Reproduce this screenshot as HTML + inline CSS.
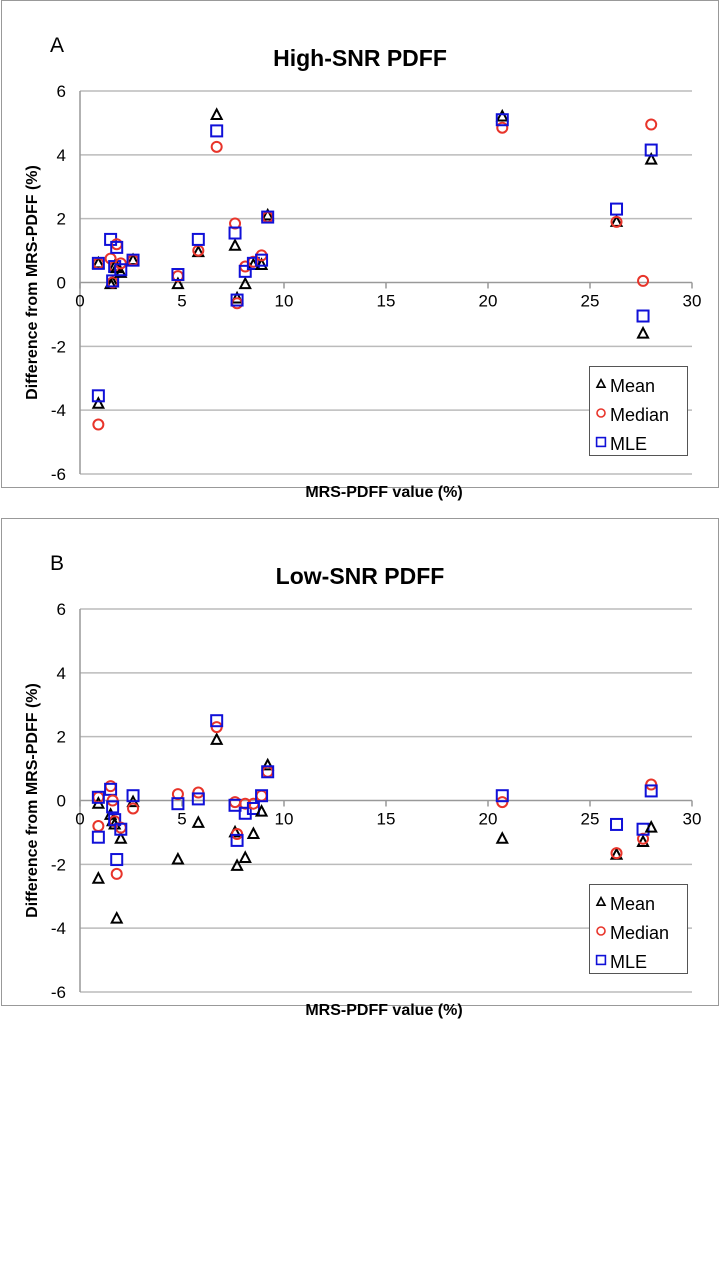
<!DOCTYPE html>
<html><head><meta charset="utf-8"><style>
body{margin:0;background:#fff;width:720px;height:1280px;overflow:hidden;font-family:"Liberation Sans",sans-serif}
svg text{font-family:"Liberation Sans",sans-serif}
</style></head><body>
<svg id="root" width="720" height="1280"></svg>
<script>
const xVals=[0.9,0.9,1.5,1.6,1.7,1.8,2.0,2.6,4.8,5.8,6.7,7.6,7.7,8.1,8.5,8.9,9.2,20.7,26.3,27.6,28.0];
const aMean=[0.6,-3.8,-0.05,0.0,0.5,0.45,0.3,0.7,-0.05,0.95,5.25,1.15,-0.5,-0.05,0.55,0.55,2.1,5.2,1.9,-1.6,3.85];
const aMedian=[0.6,-4.45,0.75,0.0,0.5,1.2,0.6,0.7,0.2,1.0,4.25,1.85,-0.65,0.5,0.65,0.85,2.05,4.85,1.9,0.05,4.95];
const aMLE=[0.6,-3.55,1.35,0.05,0.5,1.1,0.4,0.7,0.25,1.35,4.75,1.55,-0.55,0.35,0.6,0.7,2.05,5.1,2.3,-1.05,4.15];
const bMean=[-0.1,-2.45,-0.45,-0.65,-0.75,-3.7,-1.2,-0.05,-1.85,-0.7,1.9,-1.0,-2.05,-1.8,-1.05,-0.35,1.1,-1.2,-1.7,-1.3,-0.85];
const bMedian=[0.1,-0.8,0.45,0.0,-0.65,-2.3,-0.85,-0.25,0.2,0.25,2.3,-0.05,-1.05,-0.1,-0.1,0.15,0.9,-0.05,-1.65,-1.2,0.5];
const bMLE=[0.1,-1.15,0.35,-0.2,-0.6,-1.85,-0.9,0.15,-0.1,0.05,2.5,-0.15,-1.25,-0.4,-0.25,0.15,0.9,0.15,-0.75,-0.9,0.3];
const xTicks=[5,10,15,20,25,30];
const yTicks=[6,4,2,0,-2,-4,-6];
const NS='http://www.w3.org/2000/svg';
const root=document.getElementById('root');
function mk(tag,attrs,parent,txt){const e=document.createElementNS(NS,tag);for(const k in attrs)e.setAttribute(k,attrs[k]);if(txt!==undefined)e.textContent=txt;(parent||root).appendChild(e);return e;}
function panel(top,letter,title,mean,median,mle,key){
  const g=mk('g',{});
  
  
  const box=mk('rect',{x:1.5,y:top+0.5,width:717,height:487,fill:'none',stroke:'#999'},g);
  
  const x0=80,x1=692,yTop=top+91,yBot=top+474;
  const X=v=>x0+(v/30)*(x1-x0);
  const Y=v=>yTop+(6-v)/12*(yBot-yTop);
  const l=mk('text',{x:50,y:top+52,'font-size':21},g,letter);
  
  const t=mk('text',{x:360,y:top+66,'font-size':23,'font-weight':'bold','text-anchor':'middle'},g,title);
  
  yTicks.forEach(v=>{
    if(v!==0){const gl=mk('line',{x1:x0,x2:x1,y1:Y(v),y2:Y(v),stroke:'#bbb','stroke-width':1.5},g);
    }
    const tl=mk('text',{x:66,y:Y(v)+6,'font-size':17,'text-anchor':'end'},g,v);
    
  });
  const ax=mk('line',{x1:x0,x2:x0,y1:yTop,y2:yBot,stroke:'#999','stroke-width':1.5},g);
  
  const xa=mk('line',{x1:x0,x2:x1,y1:Y(0),y2:Y(0),stroke:'#999','stroke-width':1.5},g);
  
  [0].concat(xTicks).forEach(v=>{
    const tk=mk('line',{x1:X(v),x2:X(v),y1:Y(0),y2:Y(0)+6,stroke:'#999','stroke-width':1.5},g);
    
    const tl=mk('text',{x:X(v),y:Y(0)+24,'font-size':17,'text-anchor':'middle'},g,v);
    
  });
  const yl=mk('text',{x:0,y:0,'font-size':16,'font-weight':'bold','text-anchor':'middle',transform:`translate(37,${Y(0)}) rotate(-90)`},g,'Difference from MRS-PDFF (%)');
  
  const xl=mk('text',{x:384,y:top+497,'font-size':16,'font-weight':'bold','text-anchor':'middle'},g,'MRS-PDFF value (%)');
  
  function tri(cx,cy,p){const e=mk('path',{d:`M${cx},${cy-5.5}L${cx+5},${cy+4}L${cx-5},${cy+4}Z`,fill:'none',stroke:'#000','stroke-width':2},p);return e;}
  function circ(cx,cy,p){return mk('circle',{cx:cx,cy:cy,r:5,fill:'none',stroke:'#e8342a','stroke-width':2},p);}
  function sq(cx,cy,p){return mk('rect',{x:cx-5.5,y:cy-5.5,width:11,height:11,fill:'none',stroke:'#1010d8','stroke-width':2},p);}
  xVals.forEach((xv,i)=>{
    const a=tri(X(xv),Y(mean[i]),g);
    const b=circ(X(xv),Y(median[i]),g);
    const c=sq(X(xv),Y(mle[i]),g);
  });
  const lg=mk('g',{},g);
  
  mk('rect',{x:589.5,y:top+366.5,width:98,height:89,fill:'#fff',stroke:'#555'},lg);
  [['Mean',tri],['Median',circ],['MLE',sq]].forEach((it,k)=>{
    const cy=top+384+k*29;
    const m=it[1](601,cy,lg);
    m.setAttribute('transform',`translate(601,${cy}) scale(0.8) translate(-601,${-cy})`);
    const tx=mk('text',{x:610,y:cy+8,'font-size':18},lg,it[0]);
    
  });
}
panel(0,'A','High-SNR PDFF',aMean,aMedian,aMLE,'high-snr');
panel(518,'B','Low-SNR PDFF',bMean,bMedian,bMLE,'low-snr');
</script>
</body></html>
